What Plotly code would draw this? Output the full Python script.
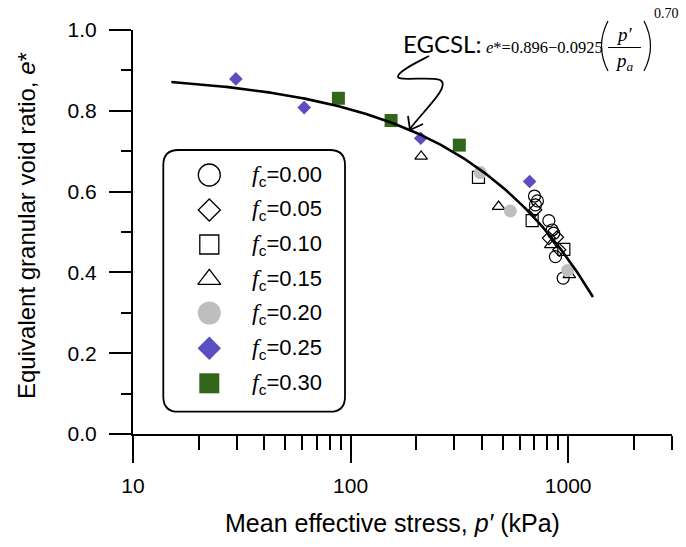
import numpy as np
import plotly.graph_objects as go

# ---------------- data ----------------
FC_LABELS = ["0.00", "0.05", "0.10", "0.15", "0.20", "0.25", "0.30"]

P_FC000 = [700, 722, 707, 815, 844, 858, 874, 948]
E_FC000 = [0.589, 0.577, 0.567, 0.528, 0.505, 0.497, 0.439, 0.386]
P_FC005 = [706, 815, 889, 910]
E_FC005 = [0.555, 0.485, 0.487, 0.456]
P_FC010 = [387, 683, 955]
E_FC010 = [0.635, 0.528, 0.457]
P_FC015 = [211, 479, 832, 1012]
E_FC015 = [0.687, 0.563, 0.468, 0.394]
P_FC020 = [394, 542, 995]
E_FC020 = [0.647, 0.552, 0.405]
P_FC025 = [29.7, 61.2, 210, 665]
E_FC025 = [0.879, 0.808, 0.732, 0.625]
P_FC030 = [87.9, 153.5, 316]
E_FC030 = [0.831, 0.776, 0.715]

# EGCSL parameters shown on the chart
E0, LAMBDA, XI, PA = 0.896, 0.0925, 0.70, 100.0
P_LINE_START, P_LINE_END = 15.0, 1300.0

X_TICKS = [10, 100, 1000]
X_MINOR = [20, 30, 40, 50, 60, 70, 80, 90, 200, 300, 400, 500, 600, 700, 800, 900, 2000, 3000]
Y_TICKS = [0.0, 0.2, 0.4, 0.6, 0.8, 1.0]
Y_MINOR = [0.1, 0.3, 0.5, 0.7, 0.9]

# ---------------- layout geometry ----------------
W, H = 686, 547
ML, MR, MT, MB = 133, 14, 30, 113
PW, PH = W - ML - MR, H - MT - MB


def px(x):
    return (x - ML) / PW


def py(y):
    return (H - MB - y) / PH


BLUE = "#5A4EC1"
GREEN = "#32661A"
GRAY = "#BEBEBE"
FONT = "Liberation Sans"
SERIF = "Liberation Serif"

styles = [
    dict(symbol="circle-open", color="black", size=12, lw=1.2, lsize=22),
    dict(symbol="diamond-open", color="black", size=10, lw=1.2, lsize=17),
    dict(symbol="square-open", color="black", size=12, lw=1.2, lsize=19),
    dict(symbol="triangle-up-open", color="black", size=11, lw=1.2, lsize=20),
    dict(symbol="circle", color=GRAY, size=13, lw=0, lsize=23),
    dict(symbol="diamond", color=BLUE, size=10.5, lw=0, lsize=18),
    dict(symbol="square", color=GREEN, size=13, lw=0, lsize=20),
]
series = [
    (P_FC000, E_FC000), (P_FC005, E_FC005), (P_FC010, E_FC010), (P_FC015, E_FC015),
    (P_FC020, E_FC020), (P_FC025, E_FC025), (P_FC030, E_FC030),
]

fig = go.Figure()

for (p, e), st, lab in zip(series, styles, FC_LABELS):
    fig.add_trace(go.Scatter(
        x=p, y=e, mode="markers", name="fc=" + lab, showlegend=False,
        marker=dict(symbol=st["symbol"], color=st["color"], size=st["size"],
                    line=dict(color=st["color"], width=st["lw"]) if st["lw"] else dict(width=0)),
    ))

p_line = np.geomspace(P_LINE_START, P_LINE_END, 200)
e_line = E0 - LAMBDA * (p_line / PA) ** XI
fig.add_trace(go.Scatter(x=p_line, y=e_line, mode="lines", showlegend=False,
                         line=dict(color="black", width=2.6)))

# ---------------- custom legend ----------------
leg_x = px(209.3)
leg_rows = [175, 210, 244.5, 279.3, 313, 348.3, 383.3]
for st, r in zip(styles, leg_rows):
    fig.add_trace(go.Scatter(
        x=[leg_x], y=[py(r)], xaxis="x2", yaxis="y2", mode="markers", showlegend=False,
        cliponaxis=False,
        marker=dict(symbol=st["symbol"], color=st["color"], size=st["lsize"],
                    line=dict(color=st["color"], width=1.3) if st["lw"] else dict(width=0)),
    ))

annotations = []
for lab, r in zip(FC_LABELS, leg_rows):
    annotations.append(dict(
        x=px(250), y=py(r), xref="paper", yref="paper", xanchor="left", yanchor="middle",
        showarrow=False,
        text="<span style='font-family:Liberation Serif;font-size:24px'><i>f</i></span>"
             "<sub>c</sub>=" + lab,
        font=dict(family=FONT, size=22, color="black"),
    ))

# legend box (rounded)
x0, x1, y0, y1, rr = 163.3, 345, 150, 411.7, 15


def P(x, y):
    return f"{px(x):.5f},{py(y):.5f}"


box = (f"M {P(x0 + rr, y0)} L {P(x1 - rr, y0)} Q {P(x1, y0)} {P(x1, y0 + rr)} "
       f"L {P(x1, y1 - rr)} Q {P(x1, y1)} {P(x1 - rr, y1)} L {P(x0 + rr, y1)} "
       f"Q {P(x0, y1)} {P(x0, y1 - rr)} L {P(x0, y0 + rr)} Q {P(x0, y0)} {P(x0 + rr, y0)} Z")

shapes = [dict(type="path", path=box, xref="paper", yref="paper",
               line=dict(color="black", width=1.8), fillcolor="rgba(0,0,0,0)", layer="above")]

# ---------------- equation annotation ----------------
annotations.append(dict(x=px(483), y=py(43), xref="paper", yref="paper", xanchor="right",
                        yanchor="middle", showarrow=False, text="EGCSL:",
                        font=dict(family="Lato", size=24, color="black")))
annotations.append(dict(x=px(484), y=py(47), xref="paper", yref="paper", xanchor="left",
                        yanchor="middle", showarrow=False,
                        text="<i>e</i>*=0.896−0.0925",
                        font=dict(family=SERIF, size=16.5, color="black")))
annotations.append(dict(x=px(624), y=py(34), xref="paper", yref="paper", xanchor="center",
                        yanchor="middle", showarrow=False, text="<i>p′</i>",
                        font=dict(family=SERIF, size=19, color="black")))
annotations.append(dict(x=px(624), y=py(62), xref="paper", yref="paper", xanchor="center",
                        yanchor="middle", showarrow=False, text="<i>p</i><sub><i>a</i></sub>",
                        font=dict(family=SERIF, size=19, color="black")))
annotations.append(dict(x=px(652), y=py(14), xref="paper", yref="paper", xanchor="left",
                        yanchor="middle", showarrow=False, text="0.70",
                        font=dict(family=SERIF, size=14, color="black")))

shapes.append(dict(type="path", xref="paper", yref="paper",
                   path=f"M {P(608, 21)} Q {P(595, 46)} {P(608, 71)}",
                   line=dict(color="black", width=1.2)))
shapes.append(dict(type="path", xref="paper", yref="paper",
                   path=f"M {P(644, 21)} Q {P(657, 46)} {P(644, 71)}",
                   line=dict(color="black", width=1.2)))
shapes.append(dict(type="line", xref="paper", yref="paper",
                   x0=px(608), x1=px(641), y0=py(47.5), y1=py(47.5),
                   line=dict(color="black", width=1.2)))

# squiggly arrow
arrow = (f"M {P(429, 56)} C {P(418, 62)} {P(400, 70)} {P(398, 76)} "
         f"C {P(396, 82)} {P(430, 76)} {P(440, 80)} "
         f"C {P(452, 86)} {P(422, 112)} {P(410, 129)}")
shapes.append(dict(type="path", xref="paper", yref="paper", path=arrow,
                   line=dict(color="black", width=1.8)))
shapes.append(dict(type="path", xref="paper", yref="paper",
                   path=f"M {P(408, 116)} L {P(410, 130)} L {P(423, 124)}",
                   line=dict(color="black", width=1.8)))

# ---------------- axis titles ----------------
annotations.append(dict(x=px(392), y=py(523), xref="paper", yref="paper", xanchor="center",
                        yanchor="middle", showarrow=False,
                        text="Mean effective stress, <i>p′</i> (kPa)",
                        font=dict(family=FONT, size=25, color="black")))
annotations.append(dict(x=px(26), y=py(226), xref="paper", yref="paper", xanchor="center",
                        yanchor="middle", showarrow=False, textangle=-90,
                        text="Equivalent granular void ratio, <i>e</i>*",
                        font=dict(family=FONT, size=24, color="black")))

fig.update_layout(
    width=W, height=H,
    margin=dict(l=ML, r=MR, t=MT, b=MB),
    paper_bgcolor="white", plot_bgcolor="white",
    font=dict(family=FONT, size=21, color="black"),
    xaxis=dict(type="log", range=[1, np.log10(3000)], showgrid=False, zeroline=False,
               showline=True, linecolor="black", linewidth=2,
               tickmode="array", tickvals=X_TICKS, ticktext=[str(v) for v in X_TICKS],
               ticks="outside", ticklen=27, tickwidth=2, tickcolor="black",
               ticklabelstandoff=5,
               minor=dict(tickmode="array", tickvals=X_MINOR, ticks="outside", ticklen=14,
                          tickwidth=2, tickcolor="black", showgrid=False)),
    yaxis=dict(range=[0, 1], showgrid=False, zeroline=False,
               showline=True, linecolor="black", linewidth=2,
               tickmode="array", tickvals=Y_TICKS, ticktext=[f"{v:.1f}" for v in Y_TICKS],
               ticks="outside", ticklen=22, tickwidth=2, tickcolor="black",
               ticklabelstandoff=8,
               minor=dict(tickmode="array", tickvals=Y_MINOR, ticks="outside", ticklen=10,
                          tickwidth=2, tickcolor="black", showgrid=False)),
    xaxis2=dict(overlaying="x", range=[0, 1], visible=False),
    yaxis2=dict(overlaying="y", range=[0, 1], visible=False),
    shapes=shapes,
    annotations=annotations,
)

fig.write_html("out.html")
